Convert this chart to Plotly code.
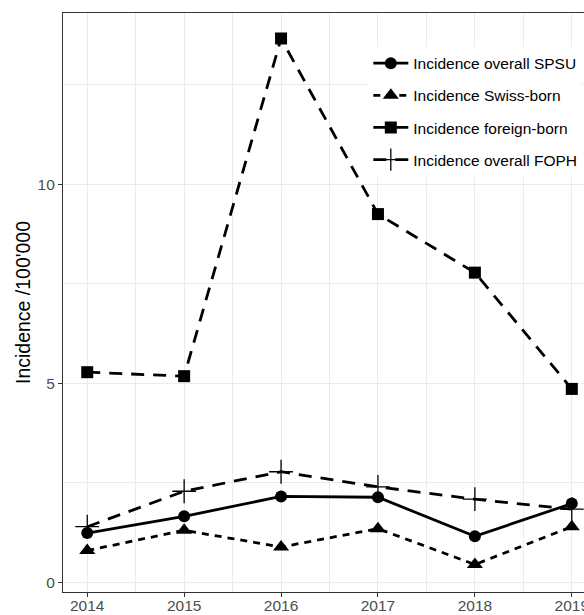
import plotly.graph_objects as go

years = [2014, 2015, 2016, 2017, 2018, 2019]
spsu = [1.24, 1.66, 2.16, 2.14, 1.16, 1.98]
swiss_born = [0.80, 1.31, 0.89, 1.35, 0.45, 1.40]
foreign_born = [5.28, 5.18, 13.66, 9.25, 7.78, 4.86]
foph = [1.40, 2.29, 2.78, 2.40, 2.09, 1.84]

names = ["Incidence overall SPSU", "Incidence Swiss-born",
         "Incidence foreign-born", "Incidence overall FOPH"]

FONT = "Liberation Sans, Arial, Helvetica, sans-serif"
LW = 2.8

fig = go.Figure()
fig.add_trace(go.Scatter(
    x=years, y=spsu, name=names[0], mode="lines+markers", legendgroup="a",
    line=dict(color="black", width=LW, dash="solid"),
    marker=dict(symbol="circle", size=12, color="black")))
fig.add_trace(go.Scatter(
    x=years, y=swiss_born, name=names[1], mode="lines+markers", legendgroup="b",
    line=dict(color="black", width=LW, dash="7px,6px"),
    marker=dict(symbol="triangle-up", size=14, color="black")))
fig.add_trace(go.Scatter(
    x=years, y=foreign_born, name=names[2], mode="lines+markers", legendgroup="c",
    line=dict(color="black", width=LW, dash="13px,9px"),
    marker=dict(symbol="square", size=12, color="black")))
fig.add_trace(go.Scatter(
    x=years, y=foph, name=names[3], mode="lines+markers", legendgroup="d",
    line=dict(color="black", width=LW, dash="13px,9px"),
    marker=dict(symbol="cross-thin-open", size=17, color="black",
                line=dict(color="black", width=1.3))))

# white legend background area (hides grid lines behind legend)
fig.add_shape(type="rect", xref="paper", yref="paper", layer="between",
              x0=(365 - 63) / 521, x1=1.0, y0=(592 - 188) / 579, y1=(592 - 25) / 579,
              fillcolor="white", line=dict(width=0))

grid = "#ebebeb"
fig.update_layout(
    width=584, height=615,
    margin=dict(l=63, r=0, t=13, b=23),
    paper_bgcolor="white", plot_bgcolor="white",
    font=dict(family=FONT, color="#4d4d4d", size=15),
    showlegend=True,
    legend=dict(x=0.586, y=0.942, xanchor="left", yanchor="top",
                bgcolor="white", font=dict(size=15.5, color="black", family=FONT),
                tracegroupgap=9, itemwidth=35),
    xaxis=dict(range=[2013.75, 2019.126], tickmode="linear", tick0=2014, dtick=1,
               showgrid=True, gridcolor=grid, gridwidth=1.2,
               minor=dict(dtick=0.5, tick0=2014, showgrid=True, gridcolor=grid, gridwidth=0.6),
               showline=True, linecolor="#333333", linewidth=1.1, mirror=True,
               ticks="outside", ticklen=4, tickcolor="#333333", tickwidth=1.1,
               ticklabelstandoff=-5, ticklabeloverflow="allow",
               tickfont=dict(size=15.5, color="#4d4d4d"), zeroline=False, automargin=False),
    yaxis=dict(range=[-0.24, 14.30], tickvals=[0, 5, 10], ticktext=["0", "5", "10"],
               showgrid=True, gridcolor=grid, gridwidth=1.2,
               minor=dict(tickvals=[2.5, 7.5, 12.5], showgrid=True, gridcolor=grid, gridwidth=0.6),
               showline=True, linecolor="#333333", linewidth=1.1, mirror=False,
               ticks="outside", ticklen=4, tickcolor="#333333", tickwidth=1.1,
               tickfont=dict(size=15.5, color="#4d4d4d"), zeroline=False, automargin=False,
               title=dict(text="Incidence /100'000", font=dict(size=19.5, color="black"), standoff=1)),
)

fig.write_html("out.html", config={"displayModeBar": False},
               post_script="document.body.style.margin='0px';document.body.style.overflow='hidden';")
